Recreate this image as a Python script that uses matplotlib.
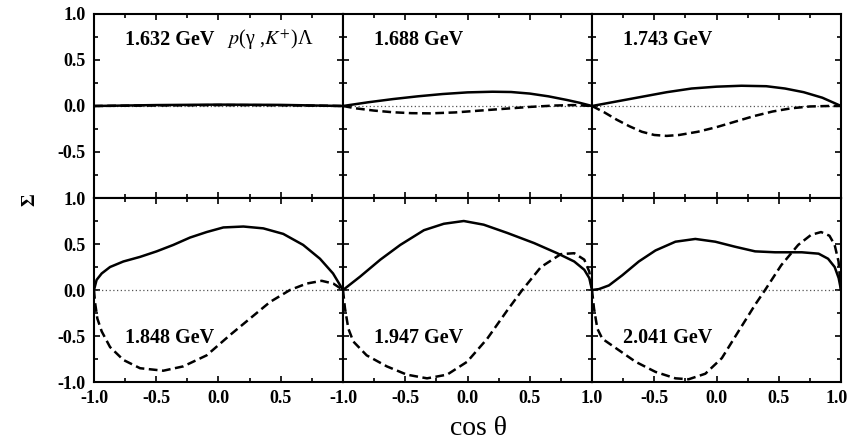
import matplotlib.pyplot as plt
from matplotlib.ticker import MultipleLocator, FixedFormatter, FixedLocator
from matplotlib.transforms import ScaledTranslation

plt.rcParams['font.family'] = ['Liberation Serif', 'DejaVu Serif']
plt.rcParams['mathtext.fontset'] = 'stix'

energies = ['1.632 GeV', '1.688 GeV', '1.743 GeV', '1.848 GeV', '1.947 GeV', '2.041 GeV']

# solid / dashed curves per panel
x_s1 = [-1.0, -0.5, 0.0, 0.5, 1.0]
y_s1 = [0.0, 0.01, 0.015, 0.012, 0.0]
x_d1 = [-1.0, -0.5, 0.0, 0.5, 1.0]
y_d1 = [0.0, 0.006, 0.01, 0.008, 0.0]

x_s2 = [-1.0, -0.8, -0.6, -0.4, -0.2, 0.0, 0.2, 0.35, 0.5, 0.65, 0.8, 0.9, 1.0]
y_s2 = [0.0, 0.04, 0.075, 0.105, 0.13, 0.148, 0.155, 0.152, 0.135, 0.105, 0.065, 0.035, 0.0]
x_d2 = [-1.0, -0.9, -0.75, -0.6, -0.45, -0.3, -0.1, 0.1, 0.3, 0.5, 0.7, 0.85, 1.0]
y_d2 = [0.0, -0.025, -0.05, -0.068, -0.078, -0.08, -0.07, -0.05, -0.03, -0.01, 0.005, 0.01, 0.0]

x_s3 = [-1.0, -0.8, -0.6, -0.4, -0.2, 0.0, 0.2, 0.4, 0.55, 0.7, 0.85, 1.0]
y_s3 = [0.0, 0.05, 0.1, 0.15, 0.19, 0.21, 0.22, 0.215, 0.19, 0.15, 0.09, 0.0]
x_d3 = [-1.0, -0.9, -0.8, -0.7, -0.6, -0.5, -0.4, -0.3, -0.15, 0.0, 0.15, 0.3, 0.45, 0.6, 0.75, 0.9, 1.0]
y_d3 = [0.0, -0.07, -0.15, -0.22, -0.28, -0.315, -0.325, -0.315, -0.28, -0.23, -0.17, -0.11,
        -0.06, -0.025, -0.005, 0.0, 0.0]

x_s4 = [-1.0, -0.979, -0.938, -0.871, -0.764, -0.63, -0.497, -0.363, -0.229, -0.095, 0.039,
        0.2, 0.36, 0.52, 0.68, 0.815, 0.92, 1.0]
y_s4 = [0.0, 0.11, 0.18, 0.25, 0.31, 0.36, 0.42, 0.49, 0.57, 0.63, 0.68, 0.69, 0.67, 0.61,
        0.49, 0.34, 0.18, 0.0]
x_d4 = [-1.0, -0.992, -0.973, -0.938, -0.871, -0.764, -0.63, -0.443, -0.283, -0.095, 0.092,
        0.253, 0.414, 0.574, 0.708, 0.829, 0.922, 1.0]
y_d4 = [0.0, -0.13, -0.31, -0.45, -0.62, -0.76, -0.85, -0.877, -0.83, -0.71, -0.49, -0.31,
        -0.13, 0.0, 0.07, 0.1, 0.07, 0.0]

x_s5 = [-1.0, -0.863, -0.7, -0.54, -0.35, -0.19, -0.03, 0.13, 0.32, 0.535, 0.72, 0.857,
        0.938, 0.978, 1.0]
y_s5 = [0.0, 0.145, 0.33, 0.49, 0.65, 0.72, 0.75, 0.71, 0.62, 0.51, 0.4, 0.31, 0.22, 0.13, 0.0]
x_d5 = [-1.0, -0.984, -0.957, -0.917, -0.81, -0.648, -0.487, -0.325, -0.164, -0.003, 0.158,
        0.32, 0.44, 0.59, 0.75, 0.857, 0.938, 0.978, 1.0]
y_d5 = [0.0, -0.2, -0.42, -0.56, -0.71, -0.83, -0.92, -0.96, -0.92, -0.78, -0.53, -0.22, 0.0,
        0.25, 0.39, 0.4, 0.33, 0.2, 0.0]

x_s6 = [-1.0, -0.944, -0.864, -0.757, -0.624, -0.49, -0.33, -0.17, -0.01, 0.15, 0.31, 0.47,
        0.685, 0.82, 0.896, 0.949, 0.981, 1.0]
y_s6 = [0.0, 0.01, 0.05, 0.16, 0.31, 0.43, 0.525, 0.555, 0.525, 0.47, 0.42, 0.41, 0.41, 0.395,
        0.34, 0.25, 0.13, 0.0]
x_d6 = [-1.0, -0.984, -0.957, -0.917, -0.81, -0.65, -0.49, -0.33, -0.224, -0.09, 0.043, 0.176,
        0.31, 0.39, 0.52, 0.656, 0.76, 0.84, 0.907, 0.949, 0.98, 1.0]
y_d6 = [0.0, -0.2, -0.42, -0.53, -0.63, -0.78, -0.89, -0.96, -0.97, -0.91, -0.74, -0.45, -0.16,
        0.0, 0.27, 0.49, 0.6, 0.63, 0.59, 0.49, 0.31, 0.0]

solid = [(x_s1, y_s1), (x_s2, y_s2), (x_s3, y_s3), (x_s4, y_s4), (x_s5, y_s5), (x_s6, y_s6)]
dashed = [(x_d1, y_d1), (x_d2, y_d2), (x_d3, y_d3), (x_d4, y_d4), (x_d5, y_d5), (x_d6, y_d6)]

xticks = [-1.0, -0.5, 0.0, 0.5, 1.0]
yticks = [-1.0, -0.5, 0.0, 0.5, 1.0]
xlab = ['-1.0', '-0.5', '0.0', '0.5', '1.0']
ylab = ['-1.0', '-0.5', '0.0', '0.5', '1.0']

fig, axes = plt.subplots(2, 3, figsize=(8.49, 4.44), dpi=100)
fig.subplots_adjust(left=0.1107, right=0.9906, top=0.9685, bottom=0.1396, wspace=0, hspace=0)

bold = dict(family='Liberation Serif', weight='bold')

for i, ax in enumerate(axes.flat):
    r, c = divmod(i, 3)
    ax.axhline(0, color='#555555', lw=0.9, ls=(0, (1, 2)))
    xs, ys = solid[i]
    ax.plot(xs, ys, color='black', lw=1.8)
    xd, yd = dashed[i]
    ax.plot(xd, yd, color='black', lw=1.8, ls=(0, (3.5, 1.8)))
    ax.set_xlim(-1, 1)
    ax.set_ylim(-1, 1)
    for s in ax.spines.values():
        s.set_linewidth(1.5)
    ax.xaxis.set_major_locator(FixedLocator(xticks))
    ax.yaxis.set_major_locator(FixedLocator(yticks))
    ax.xaxis.set_minor_locator(MultipleLocator(0.25))
    ax.yaxis.set_minor_locator(MultipleLocator(0.25))
    ax.tick_params(which='both', direction='in', top=True, right=True, width=1.2)
    ax.tick_params(which='major', length=4.5, labelsize=13, pad=6)
    ax.tick_params(which='minor', length=3)
    ax.tick_params(labelleft=(c == 0), labelbottom=(r == 1))
    if r == 1:
        lx = list(xlab)
        if c == 0:
            lx[-1] = ''
        if c == 2:
            lx[0] = ''
        ax.xaxis.set_major_formatter(FixedFormatter(lx))
        for t in ax.get_xticklabels():
            t.set_fontweight('bold')
    if c == 0:
        ly = list(ylab)
        if r == 0:
            ly[0] = ''
        ax.yaxis.set_major_formatter(FixedFormatter(ly))
        for t in ax.get_yticklabels():
            t.set_fontweight('bold')
    ty = 0.86 if r == 0 else 0.24
    ax.text(0.125, ty, energies[i], transform=ax.transAxes, fontsize=14.5,
            va='center', ha='left', **bold)

# keep the last "1.0" inside the canvas
last = axes[1, 2].get_xticklabels()[-1]
last.set_transform(last.get_transform() + ScaledTranslation(-4 / 100, 0, fig.dpi_scale_trans))

axes[0, 0].text(0.535, 0.86, r'$p$(γ ,$K^{+}$)Λ', transform=axes[0, 0].transAxes,
                fontsize=14.5, va='center', ha='left')

fig.text(30 / 849, 1 - 200 / 444, 'Σ', rotation=90, fontsize=14, ha='center', va='center', **bold)
fig.text(478 / 849, 1 - 428 / 444, 'cos θ', fontsize=20, ha='center', va='center')

fig.savefig('out.png', dpi=100)
